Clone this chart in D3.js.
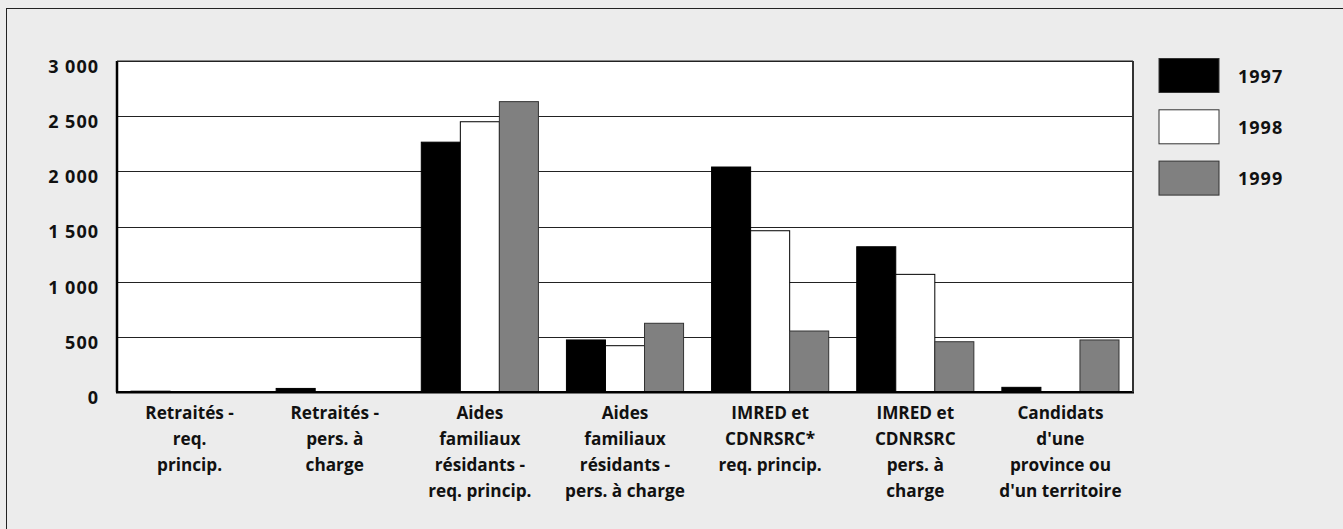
<!DOCTYPE html>
<html><head><meta charset="utf-8">
<script src="https://cdn.jsdelivr.net/npm/d3@7/dist/d3.min.js"></script>
<style>
html,body{margin:0;padding:0;background:#ececec;}
svg{display:block;}
text{font-family:"Open Sans",sans-serif;font-weight:700;fill:#111;}
</style></head>
<body>
<svg id="chart" width="1343" height="529"></svg>
<script>
const categories = [
  ["Retraités -","req.","princip."],
  ["Retraités -","pers. à","charge"],
  ["Aides","familiaux","résidants -","req. princip."],
  ["Aides","familiaux","résidants -","pers. à charge"],
  ["IMRED et","CDNRSRC*","req. princip."],
  ["IMRED et","CDNRSRC","pers. à","charge"],
  ["Candidats","d'une","province ou","d'un territoire"]
];
const seriesNames = ["1997","1998","1999"];
const values1997 = [10, 35, 2265, 474, 2040, 1318, 45];
const values1998 = [0, 0, 2450, 422, 1463, 1068, 0];
const values1999 = [0, 0, 2632, 625, 555, 458, 474];
const tickValues = [0, 500, 1000, 1500, 2000, 2500, 3000];
const tickLabels = ["0","500","1 000","1 500","2 000","2 500","3 000"];
const colors = ["#000000","#ffffff","#808080"];
const strokes = ["#000000","#000000","#333333"];

const svg = d3.select("#chart");
// outer frame
svg.append("rect").attr("x",6.5).attr("y",8.5).attr("width",1340).attr("height",530)
  .attr("fill","#ececec").attr("stroke","#222").attr("stroke-width",1);

const pL=117, pR=1133, pT=61, pB=392.3;
const x = d3.scaleBand().domain(d3.range(categories.length)).range([pL,pR]).paddingInner(0.193).paddingOuter(0.0965);
const x1 = d3.scaleBand().domain(d3.range(3)).range([0,x.bandwidth()]);
const y = d3.scaleLinear().domain([0,3000]).range([pB,pT]);

svg.append("rect").attr("x",pL).attr("y",pT).attr("width",pR-pL).attr("height",pB-pT).attr("fill","#fff");

// grid
svg.append("g").selectAll("line").data(tickValues.filter(v=>v>0)).join("line")
  .attr("x1",pL).attr("x2",pR).attr("y1",d=>Math.round(y(d))+0.5).attr("y2",d=>Math.round(y(d))+0.5)
  .attr("stroke","#222").attr("stroke-width",1.2);

const allSeries=[values1997,values1998,values1999];
allSeries.forEach((vals,si)=>{
  svg.append("g").selectAll("rect").data(vals.map((v,i)=>({v,i}))).join("rect")
    .attr("x",d=>x(d.i)+x1(si)).attr("width",x1.bandwidth())
    .attr("y",d=>y(d.v)).attr("height",d=>pB-y(d.v))
    .attr("fill",colors[si]).attr("stroke",d=>d.v>0?strokes[si]:"none").attr("stroke-width",1);
});

// axes frame
svg.append("line").attr("x1",pL).attr("x2",pL).attr("y1",pT).attr("y2",pB).attr("stroke","#000").attr("stroke-width",2.5);
svg.append("line").attr("x1",pL-1).attr("x2",pR+1).attr("y1",pB).attr("y2",pB).attr("stroke","#000").attr("stroke-width",2.5);
svg.append("line").attr("x1",pR).attr("x2",pR).attr("y1",pT).attr("y2",pB).attr("stroke","#333").attr("stroke-width",2);
svg.append("line").attr("x1",pL).attr("x2",pR).attr("y1",pT).attr("y2",pT).attr("stroke","#222").attr("stroke-width",1.2);

// y tick labels
const yAxis = d3.axisLeft(y).tickValues(tickValues).tickFormat((d,i)=>tickLabels[i]).tickSize(0).tickPadding(18);
const ga = svg.append("g").attr("transform",`translate(${pL},0)`).call(yAxis);
ga.select(".domain").remove();
ga.selectAll("text").attr("font-size",18).attr("dy","0.62em").attr("letter-spacing",1)
  .style("font-family","'Open Sans',sans-serif").style("font-weight",700).attr("fill","#111");

// category labels
const cl = svg.append("g").selectAll("text").data(categories).join("text")
  .attr("x",(d,i)=>x(i)+x.bandwidth()/2).attr("y",419)
  .attr("text-anchor","middle").attr("font-size",17.2);
cl.selectAll("tspan").data(d=>d).join("tspan")
  .attr("x",function(){return this.parentNode.getAttribute("x");})
  .attr("dy",(d,i)=>i===0?0:26).text(d=>d);

// legend
const lg = svg.append("g").selectAll("g").data(seriesNames).join("g")
  .attr("transform",(d,i)=>`translate(1159,${58.5+i*51.3})`);
lg.append("rect").attr("width",60).attr("height",34).attr("fill",(d,i)=>colors[i]).attr("stroke","#333").attr("stroke-width",1);
lg.append("text").attr("x",79).attr("y",24).attr("font-size",18).attr("letter-spacing",1).text(d=>d);
</script>
</body></html>
